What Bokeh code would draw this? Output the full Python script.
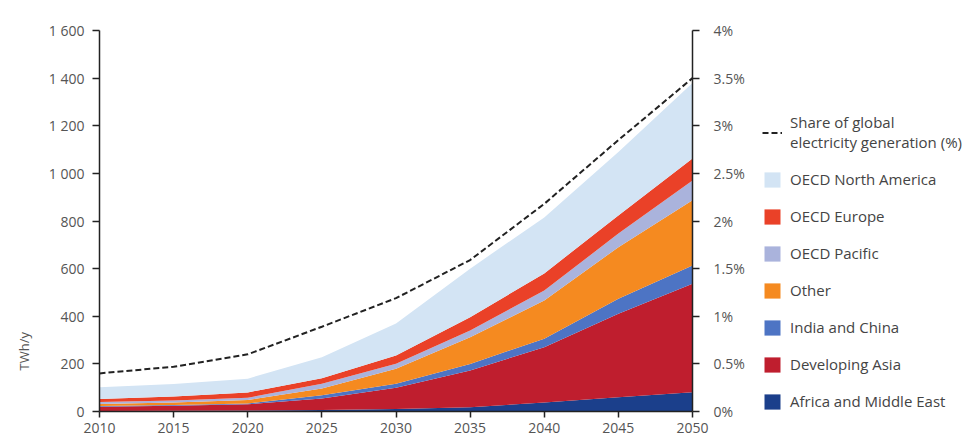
import math
from bokeh.plotting import figure
from bokeh.layouts import row
from bokeh.models import (Range1d, LinearAxis, Legend, LegendItem, Title,
                          FixedTicker, CustomJSTickFormatter, ColumnDataSource)
from bokeh.embed import file_html
from bokeh.resources import INLINE

years = [2010, 2015, 2020, 2025, 2030, 2035, 2040, 2045, 2050]
africa_me = [2, 3, 4, 6, 10, 18, 38, 60, 81]
developing_asia = [18, 21, 26, 49, 90, 154, 232, 351, 455]
india_china = [3, 3, 4, 13, 17, 28, 36, 63, 77]
other = [9, 11, 14, 29, 63, 112, 160, 216, 274]
oecd_pacific = [8, 8, 10, 20, 21, 28, 42, 57, 83]
oecd_europe = [12, 17, 22, 23, 34, 56, 72, 76, 92]
oecd_north_america = [50, 52, 58, 88, 135, 204, 235, 267, 318]
share_pct = [0.40, 0.47, 0.60, 0.89, 1.19, 1.59, 2.18, 2.85, 3.50]

regions = ["africa_me", "developing_asia", "india_china", "other",
           "oecd_pacific", "oecd_europe", "oecd_north_america"]
region_labels = ["Africa and Middle East", "Developing Asia", "India and China",
                 "Other", "OECD Pacific", "OECD Europe", "OECD North America"]
colors = ["#1b3f8b", "#bf1e2e", "#4d74c4", "#f58a20", "#aab3dc", "#ea4128", "#d3e4f4"]
share_label = "Share of global\nelectricity generation (%)"

left_ticks = [0, 200, 400, 600, 800, 1000, 1200, 1400, 1600]
right_ticks = [0, 0.5, 1, 1.5, 2, 2.5, 3, 3.5, 4]
x_ticks = [2010, 2015, 2020, 2025, 2030, 2035, 2040, 2045, 2050]

src = ColumnDataSource(dict(year=years, africa_me=africa_me,
                            developing_asia=developing_asia, india_china=india_china,
                            other=other, oecd_pacific=oecd_pacific,
                            oecd_europe=oecd_europe,
                            oecd_north_america=oecd_north_america))

FONT = "Open Sans"
TCOL = "#555555"
LINE_STYLE = dict(line_dash="6 3", line_width=2, line_color="#222222")

p = figure(frame_width=593, frame_height=381, x_range=Range1d(2010, 2050),
           y_range=Range1d(0, 1600), output_backend="svg", toolbar_location=None,
           min_border_left=97, min_border_right=60, min_border_top=30,
           min_border_bottom=29)
p.extra_y_ranges = {"pct": Range1d(0, 4)}
p.outline_line_color = None
p.xgrid.visible = False
p.ygrid.visible = False

rs = p.varea_stack(stackers=regions, x="year", color=colors, source=src)
r_line = p.line(years, share_pct, y_range_name="pct", **LINE_STYLE)

ya = p.yaxis[0]
ya.ticker = FixedTicker(ticks=left_ticks)
ya.formatter = CustomJSTickFormatter(code="""
const s = String(Math.round(tick));
return s.length > 3 ? s.slice(0, -3) + " " + s.slice(-3) : s;
""")
xa = p.xaxis[0]
xa.ticker = FixedTicker(ticks=x_ticks)

ra = LinearAxis(y_range_name="pct", ticker=FixedTicker(ticks=right_ticks),
                formatter=CustomJSTickFormatter(code="return String(tick) + '%';"))
p.add_layout(ra, "right")

for ax in (ya, xa, ra):
    ax.major_tick_out = 7
    ax.major_tick_in = 0
    ax.minor_tick_line_color = None
    ax.axis_line_color = "#222222"
    ax.axis_line_width = 1.5
    ax.major_tick_line_color = "#222222"
    ax.major_tick_line_width = 1.5
    ax.major_label_text_font = FONT
    ax.major_label_text_font_size = "14px"
    ax.major_label_text_color = TCOL
ya.major_label_standoff = 8
ra.major_label_standoff = 14
xa.major_tick_out = 6
xa.major_label_standoff = 5

p.add_layout(Title(text="TWh/y", align="left", offset=41, text_font=FONT,
                   text_font_size="13px", text_font_style="normal",
                   text_color=TCOL, standoff=25), "left")

# legend panel (a second, axis-less figure beside the chart); its legend
# renderers hold one point placed outside the visible range, so only the
# legend swatches show
p2 = figure(width=220, height=440, x_range=Range1d(0, 1), y_range=Range1d(0, 1),
            output_backend="svg", toolbar_location=None, min_border=0)
p2.axis.visible = False
p2.grid.visible = False
p2.outline_line_color = None
lg_line = p2.line([-2, -1], [-2, -2], **LINE_STYLE)
lg_areas = [p2.varea(x=[-2, -1], y1=[-2, -2], y2=[-1, -1], color=c) for c in colors]

items = [LegendItem(label=share_label, renderers=[lg_line])]
for i in range(len(regions) - 1, -1, -1):
    items.append(LegendItem(label=region_labels[i], renderers=[lg_areas[i]]))

legend = Legend(items=items, location=(10, 0), border_line_color=None,
                background_fill_alpha=0, glyph_width=20, glyph_height=19,
                label_standoff=8, spacing=17, label_height=20, padding=0,
                margin=0, label_text_font=FONT, label_text_font_size="15px",
                label_text_color="#444444")
p2.add_layout(legend, "center")

layout = row(p, p2, spacing=0)
open("out.html", "w").write(file_html(layout, INLINE))
